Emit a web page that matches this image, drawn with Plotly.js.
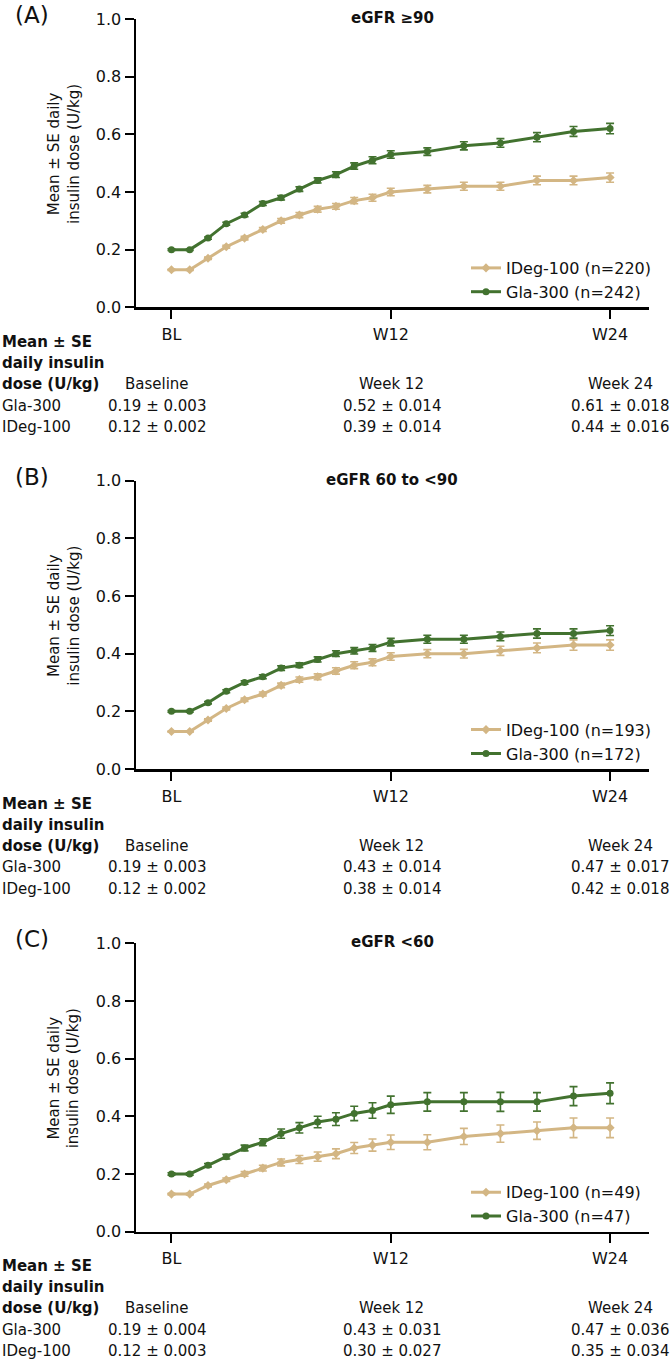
<!DOCTYPE html>
<html>
<head>
<meta charset="utf-8">
<script src="https://cdn.plot.ly/plotly-3.0.1.min.js"></script>
<style>
html,body{margin:0;padding:0;background:#fff;}
#chart{width:672px;height:1361px;}
</style>
</head>
<body>
<div id="chart"></div>
<script>
// ---------- data ----------
const weeks = [0,1,2,3,4,5,6,7,8,9,10,11,12,14,16,18,20,22,24];
const xTickVals = [0, 12, 24];
const xTickText = ['BL', 'W12', 'W24'];
const yTickVals = [0, 0.2, 0.4, 0.6, 0.8, 1.0];

const panelLabels = ['(A)', '(B)', '(C)'];
const panelTitles = ['eGFR \u226590', 'eGFR 60 to <90', 'eGFR <60'];
const seriesNames = ['IDeg-100', 'Gla-300'];
const nIDeg = [220, 193, 49];
const nGla = [242, 172, 47];

// Panel A
const glaA = [0.20,0.20,0.24,0.29,0.32,0.36,0.38,0.41,0.44,0.46,0.49,0.51,0.53,0.54,0.56,0.57,0.59,0.61,0.62];
const glaAerr = [0.003,0.003,0.004,0.005,0.006,0.007,0.008,0.008,0.009,0.010,0.011,0.012,0.013,0.013,0.014,0.015,0.016,0.017,0.018];
const idegA = [0.13,0.13,0.17,0.21,0.24,0.27,0.30,0.32,0.34,0.35,0.37,0.38,0.40,0.41,0.42,0.42,0.44,0.44,0.45];
const idegAerr = [0.002,0.002,0.004,0.005,0.006,0.007,0.008,0.009,0.010,0.010,0.011,0.012,0.013,0.013,0.014,0.014,0.015,0.015,0.016];
// Panel B
const glaB = [0.20,0.20,0.23,0.27,0.30,0.32,0.35,0.36,0.38,0.40,0.41,0.42,0.44,0.45,0.45,0.46,0.47,0.47,0.48];
const glaBerr = [0.003,0.003,0.004,0.005,0.006,0.007,0.008,0.008,0.009,0.010,0.011,0.012,0.013,0.014,0.014,0.015,0.016,0.016,0.017];
const idegB = [0.13,0.13,0.17,0.21,0.24,0.26,0.29,0.31,0.32,0.34,0.36,0.37,0.39,0.40,0.40,0.41,0.42,0.43,0.43];
const idegBerr = [0.002,0.002,0.004,0.005,0.006,0.007,0.008,0.009,0.010,0.011,0.012,0.012,0.013,0.014,0.015,0.016,0.017,0.018,0.018];
// Panel C
const glaC = [0.20,0.20,0.23,0.26,0.29,0.31,0.34,0.36,0.38,0.39,0.41,0.42,0.44,0.45,0.45,0.45,0.45,0.47,0.48];
const glaCerr = [0.004,0.004,0.006,0.008,0.010,0.012,0.016,0.018,0.020,0.022,0.025,0.027,0.030,0.032,0.032,0.033,0.032,0.033,0.036];
const idegC = [0.13,0.13,0.16,0.18,0.20,0.22,0.24,0.25,0.26,0.27,0.29,0.30,0.31,0.31,0.33,0.34,0.35,0.36,0.36];
const idegCerr = [0.003,0.003,0.005,0.006,0.008,0.010,0.012,0.014,0.016,0.017,0.019,0.021,0.025,0.026,0.028,0.030,0.030,0.034,0.034];

// Summary tables
const tableRowHeader = ['Mean \u00b1 SE', 'daily insulin', 'dose (U/kg)'];
const tableColHeaders = ['Baseline', 'Week 12', 'Week 24'];
const tableRowNames = ['Gla-300', 'IDeg-100'];
const tableA = [['0.19 \u00b1 0.003','0.52 \u00b1 0.014','0.61 \u00b1 0.018'],
                ['0.12 \u00b1 0.002','0.39 \u00b1 0.014','0.44 \u00b1 0.016']];
const tableB = [['0.19 \u00b1 0.003','0.43 \u00b1 0.014','0.47 \u00b1 0.017'],
                ['0.12 \u00b1 0.002','0.38 \u00b1 0.014','0.42 \u00b1 0.018']];
const tableC = [['0.19 \u00b1 0.004','0.43 \u00b1 0.031','0.47 \u00b1 0.036'],
                ['0.12 \u00b1 0.003','0.30 \u00b1 0.027','0.35 \u00b1 0.034']];

// ---------- layout helpers ----------
const W = 672, H = 1361;
const FONT = 'DejaVu Sans, Arial, sans-serif';
const GREEN = '#42722f';
const TAN = '#d3b684';
const px = v => v / W;
const py = v => 1 - v / H;

const panels = [
  {gla: glaA, glaErr: glaAerr, ideg: idegA, idegErr: idegAerr, table: tableA, off: 0},
  {gla: glaB, glaErr: glaBerr, ideg: idegB, idegErr: idegBerr, table: tableB, off: 461.7},
  {gla: glaC, glaErr: glaCerr, ideg: idegC, idegErr: idegCerr, table: tableC, off: 924.3}
];

const traces = [];
const layout = {
  width: W, height: H,
  margin: {l: 0, r: 0, t: 0, b: 0},
  paper_bgcolor: '#fff', plot_bgcolor: '#fff',
  font: {family: FONT, size: 15, color: '#111'},
  showlegend: true,
  annotations: []
};

const colX = [156.5, 391.5, 620];

panels.forEach((p, i) => {
  const k = i === 0 ? '' : String(i + 1);
  const xa = 'x' + k, ya = 'y' + k;
  const leg = 'legend' + k;
  const yTop = 19 + p.off, yBot = 307.3 + p.off;

  traces.push({
    x: weeks, y: p.ideg, xaxis: xa, yaxis: ya, legend: leg,
    type: 'scatter', mode: 'lines+markers',
    name: seriesNames[0] + ' (n=' + nIDeg[i] + ')',
    line: {color: TAN, width: 3},
    marker: {color: TAN, size: 7, symbol: 'diamond'},
    error_y: {type: 'data', array: p.idegErr, visible: true, color: TAN, thickness: 1.6, width: 4}
  });
  traces.push({
    x: weeks, y: p.gla, xaxis: xa, yaxis: ya, legend: leg,
    type: 'scatter', mode: 'lines+markers',
    name: seriesNames[1] + ' (n=' + nGla[i] + ')',
    line: {color: GREEN, width: 3},
    marker: {color: GREEN, size: 7, symbol: 'circle'},
    error_y: {type: 'data', array: p.glaErr, visible: true, color: GREEN, thickness: 1.6, width: 4}
  });

  layout['xaxis' + k] = {
    domain: [px(136), px(649)],
    anchor: ya,
    range: [-1.94, 26.13],
    tickvals: xTickVals, ticktext: xTickText,
    ticks: 'outside', ticklen: 9, tickwidth: 2, tickcolor: '#000',
    showline: true, linecolor: '#000', linewidth: 2.5,
    showgrid: false, zeroline: false, fixedrange: true,
    tickfont: {family: FONT, size: 16, color: '#111'},
    ticklabelstandoff: 2
  };
  layout['yaxis' + k] = {
    domain: [py(yBot), py(yTop)],
    anchor: xa,
    range: [0, 1],
    tickvals: yTickVals, tickformat: '.1f',
    ticks: 'outside', ticklen: 9, tickwidth: 2, tickcolor: '#000',
    showline: true, linecolor: '#000', linewidth: 2.5,
    showgrid: false, zeroline: false, fixedrange: true,
    tickfont: {family: FONT, size: 16, color: '#111'}
  };
  layout[leg] = {
    x: px(466), y: py(251 + p.off), xanchor: 'left', yanchor: 'top',
    bgcolor: 'rgba(0,0,0,0)', borderwidth: 0,
    font: {family: FONT, size: 16, color: '#111'},
    tracegroupgap: 0, itemwidth: 30
  };

  const A = layout.annotations;
  A.push({xref: 'paper', yref: 'paper', x: px(32), y: py(15 + p.off), text: panelLabels[i],
          showarrow: false, xanchor: 'center', yanchor: 'middle',
          font: {family: FONT, size: 23, color: '#111'}});
  A.push({xref: 'paper', yref: 'paper', x: px(392), y: py(18 + p.off), text: '<b>' + panelTitles[i] + '</b>',
          showarrow: false, xanchor: 'center', yanchor: 'middle',
          font: {family: FONT, size: 15, color: '#111'}});
  A.push({xref: 'paper', yref: 'paper', x: px(64), y: py(154 + p.off),
          text: 'Mean \u00b1 SE daily<br>insulin dose (U/kg)', textangle: -90,
          showarrow: false, xanchor: 'center', yanchor: 'middle',
          font: {family: FONT, size: 15, color: '#111'}});
  // table
  tableRowHeader.forEach((t, r) => {
    A.push({xref: 'paper', yref: 'paper', x: px(0), y: py(342 + 21 * r + p.off), text: '<b>' + t + '</b>',
            showarrow: false, xanchor: 'left', yanchor: 'middle',
            font: {family: FONT, size: 15, color: '#111'}});
  });
  tableColHeaders.forEach((t, c) => {
    A.push({xref: 'paper', yref: 'paper', x: px(colX[c]), y: py(384 + p.off), text: t,
            showarrow: false, xanchor: 'center', yanchor: 'middle',
            font: {family: FONT, size: 15, color: '#111'}});
  });
  tableRowNames.forEach((t, r) => {
    const yy = py(405.5 + 21.5 * r + p.off);
    A.push({xref: 'paper', yref: 'paper', x: px(0), y: yy, text: t,
            showarrow: false, xanchor: 'left', yanchor: 'middle',
            font: {family: FONT, size: 15, color: '#111'}});
    p.table[r].forEach((v, c) => {
      A.push({xref: 'paper', yref: 'paper', x: px(colX[c]), y: yy, text: v,
              showarrow: false, xanchor: 'center', yanchor: 'middle',
              font: {family: FONT, size: 15, color: '#111'}});
    });
  });
});

Plotly.newPlot('chart', traces, layout, {displayModeBar: false, staticPlot: true});
</script>
</body>
</html>
